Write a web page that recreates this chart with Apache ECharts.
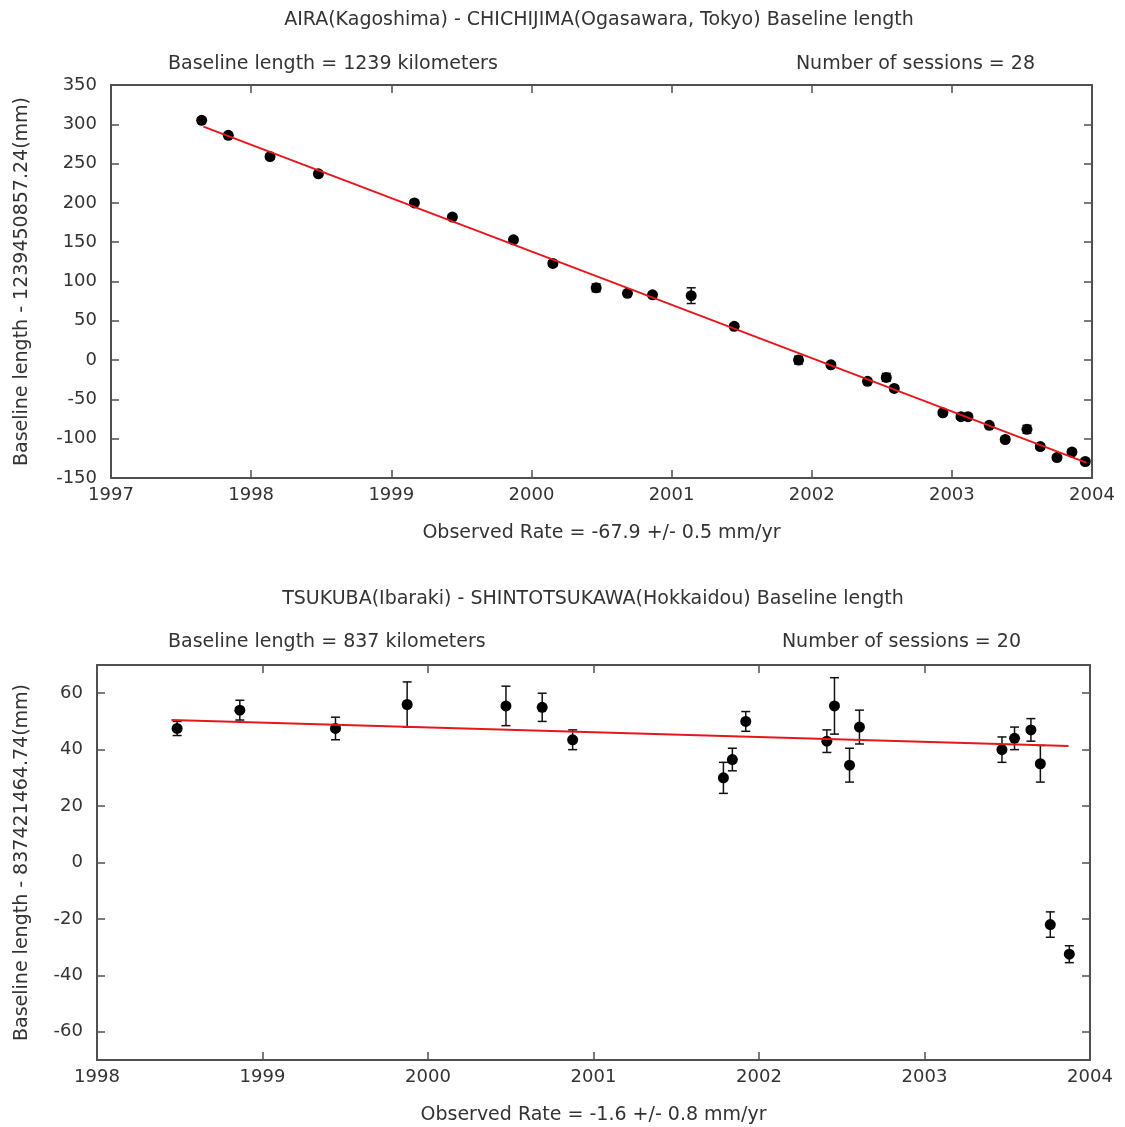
<!DOCTYPE html>
<html>
<head>
<meta charset="utf-8">
<title>Baseline length</title>
<script src="https://cdn.jsdelivr.net/npm/echarts@6/dist/echarts.min.js"></script>
<style>
  html, body { margin: 0; padding: 0; background: #fff; }
  #chart { width: 1125px; height: 1127px; }
</style>
</head>
<body>
<div id="chart"></div>
<script>
// AIRA - CHICHIJIMA
var topYears = [1997.647, 1997.837, 1998.135, 1998.48, 1999.165, 1999.436, 1999.872, 2000.153, 2000.462, 2000.685,
  2000.864, 2001.14, 2001.447, 2001.906, 2002.137, 2002.398, 2002.532, 2002.589, 2002.936, 2003.065,
  2003.115, 2003.267, 2003.381, 2003.536, 2003.631, 2003.75, 2003.857, 2003.952];
var topValues = [305, 286, 259, 237, 200, 182, 153, 123, 92, 85,
  83, 82, 43, 0, -6, -27, -22, -36, -67, -72,
  -72, -83, -101, -88, -110, -124, -117, -129];
var topErrors = [3, 3, 3, 3, 3, 3, 3, 3, 5, 3,
  3, 10, 3, 5, 3, 3, 5, 3, 3, 3,
  3, 3, 3, 5, 3, 3, 3, 3];
var topFit = [[1997.66, 297], [2003.96, -130.5]];

// TSUKUBA - SHINTOTSUKAWA
var botYears = [1998.484, 1998.863, 1999.441, 1999.874, 2000.471, 2000.69, 2000.874, 2001.785, 2001.839, 2001.92,
  2002.41, 2002.456, 2002.547, 2002.607, 2003.468, 2003.544, 2003.643, 2003.70, 2003.76, 2003.875];
var botValues = [47.5, 54, 47.5, 56, 55.5, 55, 43.5, 30, 36.5, 50,
  43, 55.5, 34.5, 48, 40, 44, 47, 35, -22, -32.5];
var botErrors = [2.5, 3.5, 4, 8, 7, 5, 3.5, 5.5, 4, 3.5,
  4, 10, 6, 6, 4.5, 4, 4, 6.5, 4.5, 3];
var botFit = [[1998.45, 50.5], [2003.87, 41.3]];

var botTicks = [-60, -40, -20, 0, 20, 40, 60];

var FONT = 'DejaVu Sans';
var TXT = '#333';
var AX = '#505050';

function points(xs, ys) {
  var out = [];
  for (var i = 0; i < xs.length; i++) out.push([xs[i], ys[i]]);
  return out;
}
function errs(xs, ys, es) {
  var out = [];
  for (var i = 0; i < xs.length; i++) out.push([xs[i], ys[i] - es[i], ys[i] + es[i]]);
  return out;
}

function renderErr(params, api) {
  var x = api.value(0);
  var p1 = api.coord([x, api.value(2)]);
  var p2 = api.coord([x, api.value(1)]);
  var w = 4.5;
  var st = { stroke: '#111', lineWidth: 1.5 };
  return {
    type: 'group',
    children: [
      { type: 'line', shape: { x1: p1[0], y1: p1[1], x2: p2[0], y2: p2[1] }, style: st },
      { type: 'line', shape: { x1: p1[0] - w, y1: p1[1], x2: p1[0] + w, y2: p1[1] }, style: st },
      { type: 'line', shape: { x1: p2[0] - w, y1: p2[1], x2: p2[0] + w, y2: p2[1] }, style: st }
    ]
  };
}

function xAx(grid, min, max, pos, name) {
  return {
    type: 'value', gridIndex: grid, min: min, max: max, interval: 1, position: pos,
    axisLine: { show: true, onZero: false, lineStyle: { color: AX, width: 2 } },
    axisTick: { show: true, inside: true, length: 8, lineStyle: { color: AX, width: 1.5 } },
    axisLabel: { show: pos === 'bottom', color: TXT, fontSize: 18, fontFamily: FONT, margin: 8,
      formatter: function (v) { return String(v); } },
    splitLine: { show: false },
    name: name || '', nameLocation: 'middle', nameGap: 46,
    nameTextStyle: { color: TXT, fontSize: 19, fontFamily: FONT }
  };
}

function yAx(grid, min, max, interval, pos, name, gap, ticks) {
  var a = {
    type: 'value', gridIndex: grid, min: min, max: max, position: pos,
    axisLine: { show: true, onZero: false, lineStyle: { color: AX, width: 2 } },
    axisTick: { show: true, inside: true, length: 8, lineStyle: { color: AX, width: 1.5 } },
    axisLabel: { show: pos === 'left', color: TXT, fontSize: 18, fontFamily: FONT, margin: 14,
      formatter: function (v) { return String(v); } },
    splitLine: { show: false },
    name: name || '', nameLocation: 'middle', nameGap: gap || 0,
    nameTextStyle: { color: TXT, fontSize: 19, fontFamily: FONT }
  };
  if (interval) a.interval = interval;
  if (ticks) {
    a.axisTick.customValues = ticks;
    a.axisLabel.customValues = ticks;
  }
  return a;
}

function txt(x, y, s, align) {
  return {
    type: 'text', x: x, y: y,
    style: { text: s, fill: TXT, font: '19px "' + FONT + '"', textAlign: align, textVerticalAlign: 'middle' }
  };
}

var chart = echarts.init(document.getElementById('chart'));
chart.setOption({
  animation: false,
  backgroundColor: '#fff',
  graphic: [
    txt(599, 20, 'AIRA(Kagoshima) - CHICHIJIMA(Ogasawara, Tokyo) Baseline length', 'center'),
    txt(168, 64, 'Baseline length = 1239 kilometers', 'left'),
    txt(1035, 64, 'Number of sessions = 28', 'right'),
    txt(593, 599, 'TSUKUBA(Ibaraki) - SHINTOTSUKAWA(Hokkaidou) Baseline length', 'center'),
    txt(168, 642, 'Baseline length = 837 kilometers', 'left'),
    txt(1021, 642, 'Number of sessions = 20', 'right')
  ],
  grid: [
    { left: 111, right: 33, top: 85, height: 393 },
    { left: 97, right: 35, top: 665, height: 395 }
  ],
  xAxis: [
    xAx(0, 1997, 2004, 'bottom', 'Observed Rate = -67.9 +/- 0.5 mm/yr'),
    xAx(0, 1997, 2004, 'top'),
    xAx(1, 1998, 2004, 'bottom', 'Observed Rate = -1.6 +/- 0.8 mm/yr'),
    xAx(1, 1998, 2004, 'top')
  ],
  yAxis: [
    yAx(0, -150, 350, 50, 'left', 'Baseline length - 1239450857.24(mm)', 79),
    yAx(0, -150, 350, 50, 'right'),
    yAx(1, -70, 70, null, 'left', 'Baseline length - 837421464.74(mm)', 65, botTicks),
    yAx(1, -70, 70, null, 'right', '', 0, botTicks)
  ],
  series: [
    {
      type: 'custom', xAxisIndex: 0, yAxisIndex: 0, renderItem: renderErr,
      encode: { x: 0, y: [1, 2] }, data: errs(topYears, topValues, topErrors), z: 2
    },
    {
      type: 'scatter', xAxisIndex: 0, yAxisIndex: 0, symbol: 'circle', symbolSize: 11,
      itemStyle: { color: '#000', opacity: 1 }, data: points(topYears, topValues), z: 3
    },
    {
      type: 'line', xAxisIndex: 0, yAxisIndex: 0, data: topFit, symbol: 'none',
      lineStyle: { color: '#e8161c', width: 2 }, z: 4
    },
    {
      type: 'custom', xAxisIndex: 2, yAxisIndex: 2, renderItem: renderErr,
      encode: { x: 0, y: [1, 2] }, data: errs(botYears, botValues, botErrors), z: 2
    },
    {
      type: 'scatter', xAxisIndex: 2, yAxisIndex: 2, symbol: 'circle', symbolSize: 11,
      itemStyle: { color: '#000', opacity: 1 }, data: points(botYears, botValues), z: 3
    },
    {
      type: 'line', xAxisIndex: 2, yAxisIndex: 2, data: botFit, symbol: 'none',
      lineStyle: { color: '#e8161c', width: 2 }, z: 4
    }
  ]
});
</script>
</body>
</html>
